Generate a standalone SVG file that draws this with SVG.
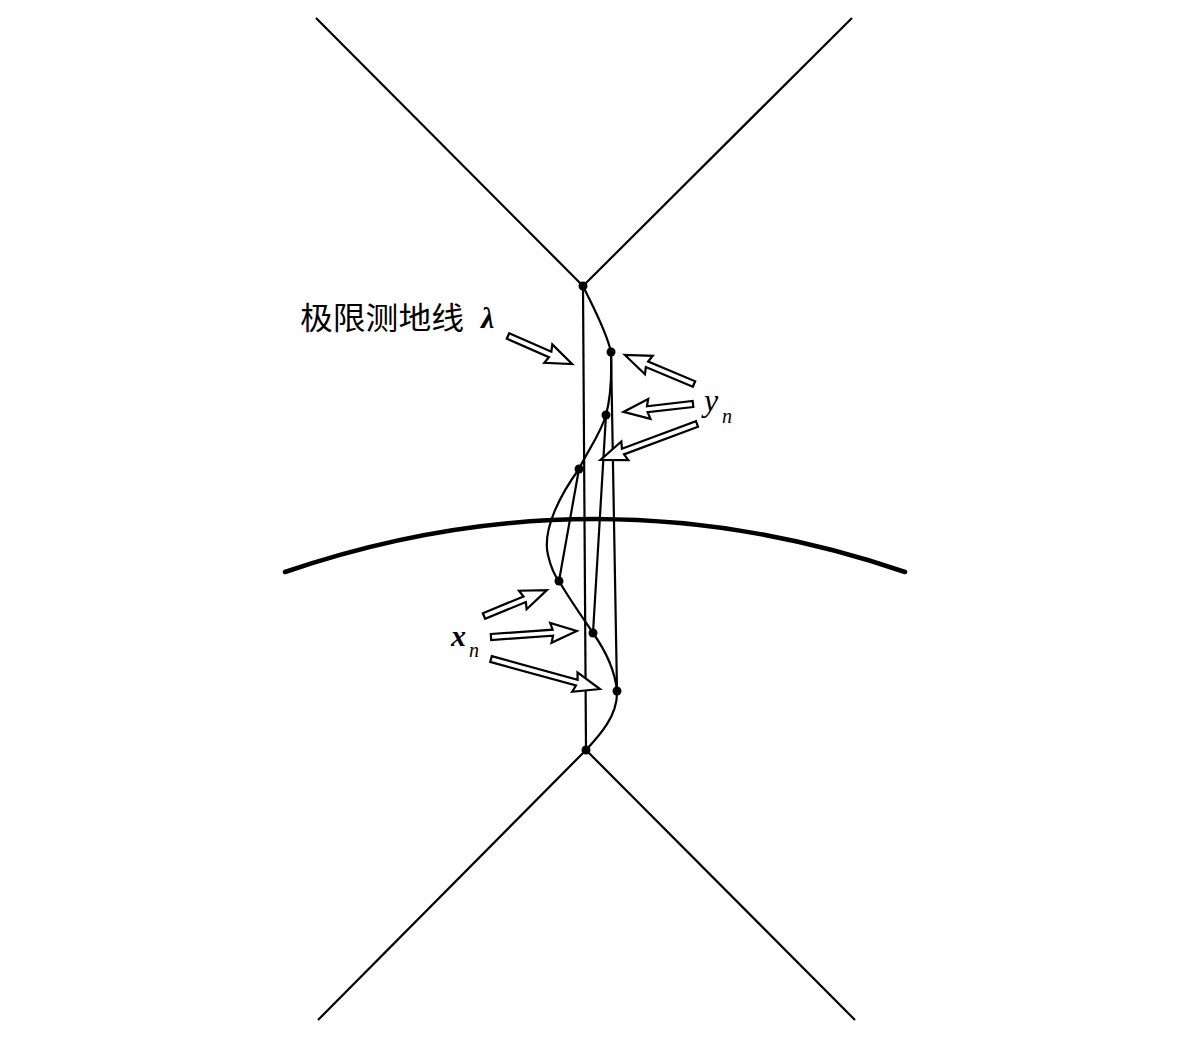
<svg xmlns="http://www.w3.org/2000/svg" width="1193" height="1043" viewBox="0 0 1193 1043">
<style>
.ln{fill:none;stroke:#000;stroke-width:2.2}
.thick{fill:none;stroke:#000;stroke-width:4.5;stroke-linecap:round}
.dot{fill:#000}
.arr{fill:#fff;stroke:#000;stroke-width:2.2;stroke-linejoin:miter}
.cjk{font-family:"Noto Sans CJK SC","Noto Sans",sans-serif;font-size:31px;fill:#000}
.math{font-family:"Liberation Serif","DejaVu Serif",serif;font-style:italic;fill:#000}
</style>
<rect width="1193" height="1043" fill="#fff"/>
<g id="connectors">
<path class="ln" d="M316,18 L583,286 L852,18"/>
<path class="ln" d="M318,1020 L586,750 L855,1020"/>
<path class="ln" d="M583,286 L586,750"/>
<path class="thick" d="M285,572 Q595,466 905,572"/>
<path class="ln" d="M583,286 C592,305 606,330 611,352 C612,380 610,400 606,415 C600,435 588,450 579,469 C560,495 542,530 548,555 C551,568 555,576 559,581 C570,600 583,618 593,633 C605,650 615,670 617,691 C618,715 600,735 586,750"/>
<path class="ln" d="M611,352 L617,691 M606,415 L593,633 M579,469 L559,581"/>
</g>
<g id="points">
<circle class="dot" cx="583" cy="286" r="4.5"/>
<circle class="dot" cx="586" cy="750" r="4.5"/>
<circle class="dot" cx="611" cy="352" r="4.5"/>
<circle class="dot" cx="606" cy="415" r="4.5"/>
<circle class="dot" cx="579" cy="469" r="4.5"/>
<circle class="dot" cx="559" cy="581" r="4.5"/>
<circle class="dot" cx="593" cy="633" r="4.5"/>
<circle class="dot" cx="617" cy="691" r="4.5"/>
</g>
<g id="arrows">
<path class="arr" transform="translate(508,336) rotate(23.6)" d="M0,-3 L46,-3 L44,-10 L70,0 L44,10 L46,3 L0,3 Z"/>
<path class="arr" transform="translate(694,384) rotate(202.8)" d="M0,-3 L51,-3 L49,-10 L75,0 L49,10 L51,3 L0,3 Z"/>
<path class="arr" transform="translate(693,404) rotate(173.5)" d="M0,-3 L46,-3 L44,-10 L70,0 L44,10 L46,3 L0,3 Z"/>
<path class="arr" transform="translate(697,424) rotate(159.6)" d="M0,-3 L79,-3 L77,-10 L103,0 L77,10 L79,3 L0,3 Z"/>
<path class="arr" transform="translate(484,616) rotate(-22.4)" d="M0,-3 L44,-3 L42,-10 L68,0 L42,10 L44,3 L0,3 Z"/>
<path class="arr" transform="translate(491,637) rotate(-4)" d="M0,-3 L62,-3 L60,-10 L86,0 L60,10 L62,3 L0,3 Z"/>
<path class="arr" transform="translate(491,659) rotate(15.4)" d="M0,-3 L89,-3 L87,-10 L113,0 L87,10 L89,3 L0,3 Z"/>
</g>
<g id="labels">
<text class="cjk" x="300" y="329" textLength="164" lengthAdjust="spacingAndGlyphs">极限测地线</text>
<text class="math" x="481" y="328" font-size="30" font-weight="bold">λ</text>
<text class="math" x="704" y="411" font-size="32">y</text>
<text class="math" x="722" y="423" font-size="20">n</text>
<text class="math" x="451" y="646" font-size="30" font-weight="bold">x</text>
<text class="math" x="469" y="657" font-size="20">n</text>
</g>
</svg>
